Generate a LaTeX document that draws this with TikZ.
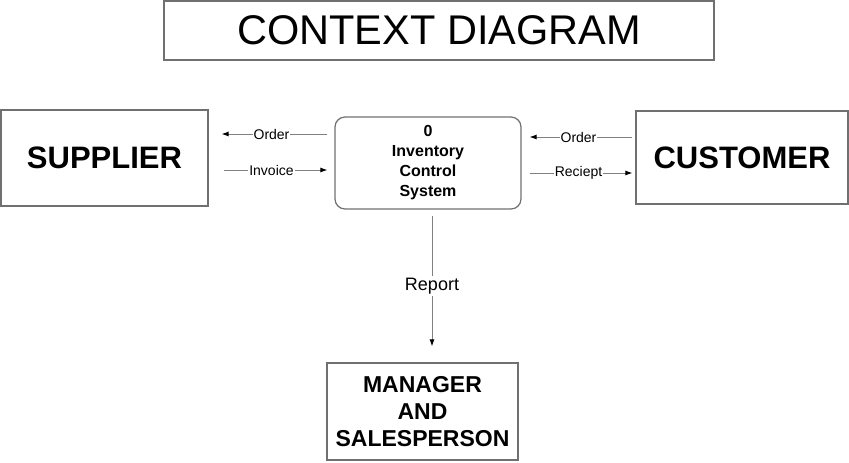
\documentclass[tikz,border=0pt]{standalone}
\usepackage{fontspec}
\setmainfont{Liberation Sans}
\usepackage{tikz}
\usetikzlibrary{arrows.meta}
\usepackage{xcolor}

\definecolor{boxgray}{RGB}{112,112,112}
\definecolor{linegray}{RGB}{128,128,128}

\begin{document}
\begin{tikzpicture}[x=1pt, y=-1pt,
    entity/.style={rectangle, draw=boxgray, line width=1.2pt, align=center},
    process/.style={rectangle, rounded corners=10pt, draw=boxgray, line width=1.2pt, align=center},
    flow/.style={draw=linegray, line width=0.9pt, -{Latex[black, length=7pt, width=5pt]}},
    flowlbl/.style={fill=white, inner sep=1pt, font=\fontsize{14}{16}\selectfont}]

          % Frame
          \useasboundingbox (0,0) rectangle (849,463);

          % Title
          \node[entity, minimum width=550pt, minimum height=59pt, font=\fontsize{41.5}{48}\selectfont] (title) at (439,30.5) {CONTEXT DIAGRAM};

          % External entities
          \node[entity, minimum width=207pt, minimum height=96pt, font=\bfseries\fontsize{31}{36}\selectfont] (sup) at (104.5,158) {SUPPLIER};
          \node[entity, minimum width=212pt, minimum height=93pt, font=\bfseries\fontsize{31}{36}\selectfont] (cus) at (742,157.5) {CUSTOMER};
          \node[entity, minimum width=191pt, minimum height=97pt, font=\bfseries\fontsize{23}{27}\selectfont] (mgr) at (422.5,411.5) {MANAGER\\AND\\SALESPERSON};

          % Process
          \node[process, minimum width=186pt, minimum height=92pt, font=\bfseries\fontsize{16}{20}\selectfont] (ics) at (428,163) {0\\Inventory\\Control\\System};

          % Flows with supplier
          \draw[flow, shorten <=7pt, shorten >=13pt] ([yshift=29pt]ics.west) -- node[flowlbl]{Order} ([yshift=29pt]ics.west -| sup.east);
          \draw[flow, shorten <=15pt, shorten >=7pt] ([yshift=-7pt]ics.west -| sup.east) -- node[flowlbl]{Invoice} ([yshift=-7pt]ics.west);

          % Flows with customer
          \draw[flow, shorten <=3pt, shorten >=8pt] ([yshift=26pt]ics.east -| cus.west) -- node[flowlbl]{Order} ([yshift=26pt]ics.east);
          \draw[flow, shorten <=8pt, shorten >=3pt] ([yshift=-10pt]ics.east) -- node[flowlbl]{Reciept} ([yshift=-10pt]ics.east -| cus.west);

          % Report
          \draw[flow, shorten <=6pt, shorten >=16pt] ([xshift=4pt]ics.south) -- node[flowlbl, inner sep=2pt, font=\fontsize{18}{21}\selectfont]{Report} ([xshift=4pt]ics.south |- mgr.north);

        \end{tikzpicture}
\end{document}
